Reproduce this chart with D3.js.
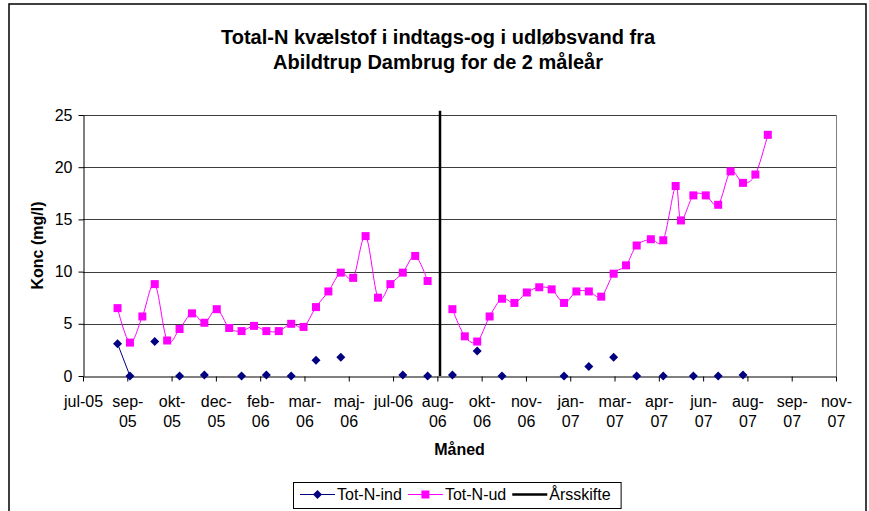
<!DOCTYPE html>
<html>
<head>
<meta charset="utf-8">
<script src="https://cdn.jsdelivr.net/npm/d3@7"></script>
<style>
  body { margin: 0; background: #fff; }
  svg { display: block; font-family: "Liberation Sans", Arial, sans-serif; }
</style>
</head>
<body>
<svg id="chart" width="869" height="511"></svg>
<script>
// chart data
const titleLines = ['Total-N kvælstof i indtags-og i udløbsvand fra', 'Abildtrup Dambrug for de 2 måleår'];
const yTitle = 'Konc (mg/l)';
const xTitle = 'Måned';

// sampling dates (one gap at the year change)
const sampleDates = [
  '2005-08-25', '2005-09-08', '2005-09-22', '2005-10-06', '2005-10-20', '2005-11-03', '2005-11-17',
  '2005-12-01', '2005-12-15', '2005-12-29', '2006-01-12', '2006-01-26', '2006-02-09', '2006-02-23',
  '2006-03-09', '2006-03-23', '2006-04-06', '2006-04-20', '2006-05-04', '2006-05-18', '2006-06-01',
  '2006-06-15', '2006-06-29', '2006-07-13', '2006-07-27', '2006-08-10',
  '2006-08-24',
  '2006-09-07', '2006-09-21', '2006-10-05', '2006-10-19', '2006-11-02', '2006-11-16', '2006-11-30',
  '2006-12-14', '2006-12-28', '2007-01-11', '2007-01-25', '2007-02-08', '2007-02-22', '2007-03-08',
  '2007-03-22', '2007-04-03', '2007-04-19', '2007-05-03', '2007-05-17', '2007-05-23', '2007-06-06',
  '2007-06-20', '2007-07-04', '2007-07-18', '2007-08-01', '2007-08-15', '2007-08-29'
];

const totNInd = [
  3.1, 0, null, 3.3, null, 0, null, 0.1, null, null, 0, null, 0.1, null,
  0, null, 1.5, null, 1.8, null, null, null, null, 0.1, null, 0,
  null,
  0.1, null, 2.4, null, 0, null, null, null, null, 0, null, 0.9, null, 1.8,
  null, 0, null, 0, null, null, 0, null, 0, null, 0.1, null, null
];

const totNUd = [
  6.5, 3.2, 5.7, 8.8, 3.4, 4.5, 6.0, 5.1, 6.4, 4.6, 4.3, 4.8, 4.3, 4.3,
  5.0, 4.7, 6.6, 8.1, 9.9, 9.4, 13.4, 7.5, 8.8, 9.9, 11.5, 9.1,
  null,
  6.4, 3.8, 3.3, 5.7, 7.4, 7.0, 8.0, 8.5, 8.3, 7.0, 8.1, 8.1, 7.6, 9.8,
  10.6, 12.5, 13.1, 13.0, 18.2, 14.9, 17.3, 17.3, 16.4, 19.6, 18.5, 19.3, 23.1
];

const yearChangeDates = ['2006-08-24', '2006-08-24'];
const yearChangeValues = [0, 25.4];

// excel date axis: a tick every 50 days
const xTickDates = [
  '2005-07-17', '2005-09-05', '2005-10-25', '2005-12-14', '2006-02-02', '2006-03-24',
  '2006-05-13', '2006-07-02', '2006-08-21', '2006-10-10', '2006-11-29', '2007-01-18',
  '2007-03-09', '2007-04-28', '2007-06-17', '2007-08-06', '2007-09-25', '2007-11-14'
];
const xTickLabels = [
  'jul-05', 'sep-05', 'okt-05', 'dec-05', 'feb-06', 'mar-06', 'maj-06', 'jul-06', 'aug-06',
  'okt-06', 'nov-06', 'jan-07', 'mar-07', 'apr-07', 'jun-07', 'aug-07', 'sep-07', 'nov-07'
];
const yTicks = [0, 5, 10, 15, 20, 25];

const parse = d3.utcParse('%Y-%m-%d');
const svg = d3.select('#chart');

const plot = { left: 83, right: 836, top: 115, bottom: 376 };

const x = d3.scaleUtc()
  .domain([parse(xTickDates[0]), parse(xTickDates[xTickDates.length - 1])])
  .range([plot.left, plot.right]);

const y = d3.scaleLinear()
  .domain([0, 25])
  .range([plot.bottom, plot.top]);

// outer chart border
svg.append('rect')
  .attr('x', 9).attr('y', 4)
  .attr('width', 857).attr('height', 530)
  .attr('fill', 'none')
  .attr('stroke', '#000')
  .attr('stroke-width', 1.5);

// title
svg.append('text')
  .attr('text-anchor', 'middle')
  .style('font-size', '20px')
  .style('font-weight', 'bold')
  .selectAll('tspan')
  .data(titleLines)
  .join('tspan')
  .attr('x', 438)
  .attr('y', (d, i) => 44 + i * 25)
  .text(d => d);

// gridlines
svg.append('g')
  .selectAll('line')
  .data(yTicks.filter(d => d > 0))
  .join('line')
  .attr('x1', plot.left).attr('x2', plot.right)
  .attr('y1', d => Math.round(y(d)) + 0.5)
  .attr('y2', d => Math.round(y(d)) + 0.5)
  .attr('stroke', '#3c3c3c')
  .attr('stroke-width', 1);

// plot area right border
svg.append('line')
  .attr('x1', plot.right + 0.5).attr('x2', plot.right + 0.5)
  .attr('y1', plot.top).attr('y2', plot.bottom)
  .attr('stroke', '#808080');

// y axis
const yAxis = svg.append('g')
  .attr('transform', `translate(${plot.left + 0.5},0)`)
  .call(d3.axisLeft(y).tickValues(yTicks).tickSize(5).tickPadding(6).tickSizeOuter(0));
yAxis.select('.domain').attr('stroke', '#000');
yAxis.selectAll('text').style('font-size', '16px').attr('fill', '#000').attr('font-family', null);

svg.append('text')
  .attr('transform', `translate(43,${(plot.top + plot.bottom) / 2}) rotate(-90)`)
  .attr('text-anchor', 'middle')
  .style('font-size', '16px')
  .style('font-weight', 'bold')
  .text(yTitle);

// x axis
const xAxis = svg.append('g')
  .attr('transform', `translate(0,${plot.bottom + 0.5})`)
  .call(d3.axisBottom(x)
    .tickValues(xTickDates.map(parse))
    .tickFormat((d, i) => xTickLabels[i])
    .tickSize(5)
    .tickSizeOuter(0));
xAxis.select('.domain').attr('stroke', '#000');
xAxis.selectAll('text')
  .style('font-size', '16px')
  .attr('fill', '#000')
  .attr('font-family', null)
  .attr('y', 30)
  .attr('dy', 0)
  .each(function() {
    const t = d3.select(this);
    const label = t.text();
    // long labels wrap after the dash, like excel does
    if (this.getComputedTextLength() > 42) {
      const parts = label.split('-');
      t.text(null);
      t.append('tspan').attr('x', 0).attr('y', 30).text(parts[0] + '-');
      t.append('tspan').attr('x', 0).attr('y', 50).text(parts[1]);
    }
  });

svg.append('text')
  .attr('x', (plot.left + plot.right) / 2)
  .attr('y', 455)
  .attr('text-anchor', 'middle')
  .style('font-size', '16px')
  .style('font-weight', 'bold')
  .text(xTitle);

// series
const udData = sampleDates.map((d, i) => ({ date: parse(d), value: totNUd[i] }));
const indData = sampleDates.map((d, i) => ({ date: parse(d), value: totNInd[i] }));
const yearData = yearChangeDates.map((d, i) => ({ date: parse(d), value: yearChangeValues[i] }));

const smoothLine = d3.line()
  .defined(d => d.value != null)
  .x(d => x(d.date))
  .y(d => y(d.value))
  .curve(d3.curveCatmullRom.alpha(0));

const straightLine = d3.line()
  .defined(d => d.value != null)
  .x(d => x(d.date))
  .y(d => y(d.value));

const pink = '#ff00ff';
const navy = '#000080';
const diamond = 'M0,-4.5L4.5,0L0,4.5L-4.5,0Z';

// year change line
svg.append('path')
  .datum(yearData)
  .attr('d', straightLine)
  .attr('stroke', '#000')
  .attr('stroke-width', 2.5)
  .attr('fill', 'none');

svg.append('path')
  .datum(indData)
  .attr('d', straightLine)
  .attr('stroke', navy)
  .attr('stroke-width', 1)
  .attr('fill', 'none');

svg.append('path')
  .datum(udData)
  .attr('d', smoothLine)
  .attr('stroke', pink)
  .attr('stroke-width', 1)
  .attr('fill', 'none');

svg.append('g')
  .selectAll('path')
  .data(indData.filter(d => d.value != null))
  .join('path')
  .attr('d', diamond)
  .attr('transform', d => `translate(${x(d.date)},${y(d.value)})`)
  .attr('fill', navy);

svg.append('g')
  .selectAll('rect')
  .data(udData.filter(d => d.value != null))
  .join('rect')
  .attr('x', d => x(d.date) - 4)
  .attr('y', d => y(d.value) - 4)
  .attr('width', 8)
  .attr('height', 8)
  .attr('fill', pink);

// legend
const legendItems = [
  { name: 'Tot-N-ind', color: navy, width: 1, marker: 'diamond' },
  { name: 'Tot-N-ud', color: pink, width: 1, marker: 'square' },
  { name: 'Årsskifte', color: '#000', width: 2.5, marker: null }
];

const legend = svg.append('g');
const legendBox = legend.append('rect')
  .attr('fill', '#fff')
  .attr('stroke', '#000')
  .attr('stroke-width', 1);

let cx = 300;
const ly = 494.5;
legendItems.forEach(item => {
  legend.append('line')
    .attr('x1', cx).attr('x2', cx + 35)
    .attr('y1', ly).attr('y2', ly)
    .attr('stroke', item.color)
    .attr('stroke-width', item.width);
  if (item.marker === 'diamond') {
    legend.append('path')
      .attr('d', diamond)
      .attr('transform', `translate(${cx + 17.5},${ly})`)
      .attr('fill', item.color);
  } else if (item.marker === 'square') {
    legend.append('rect')
      .attr('x', cx + 13.5).attr('y', ly - 4)
      .attr('width', 8).attr('height', 8)
      .attr('fill', item.color);
  }
  const t = legend.append('text')
    .attr('x', cx + 37)
    .attr('y', ly + 5.5)
    .style('font-size', '16px')
    .text(item.name);
  cx = cx + 37 + t.node().getComputedTextLength() + 6;
});

legendBox
  .attr('x', 293.5).attr('y', 482.5)
  .attr('width', cx - 293 + 4).attr('height', 26);
</script>
</body>
</html>
